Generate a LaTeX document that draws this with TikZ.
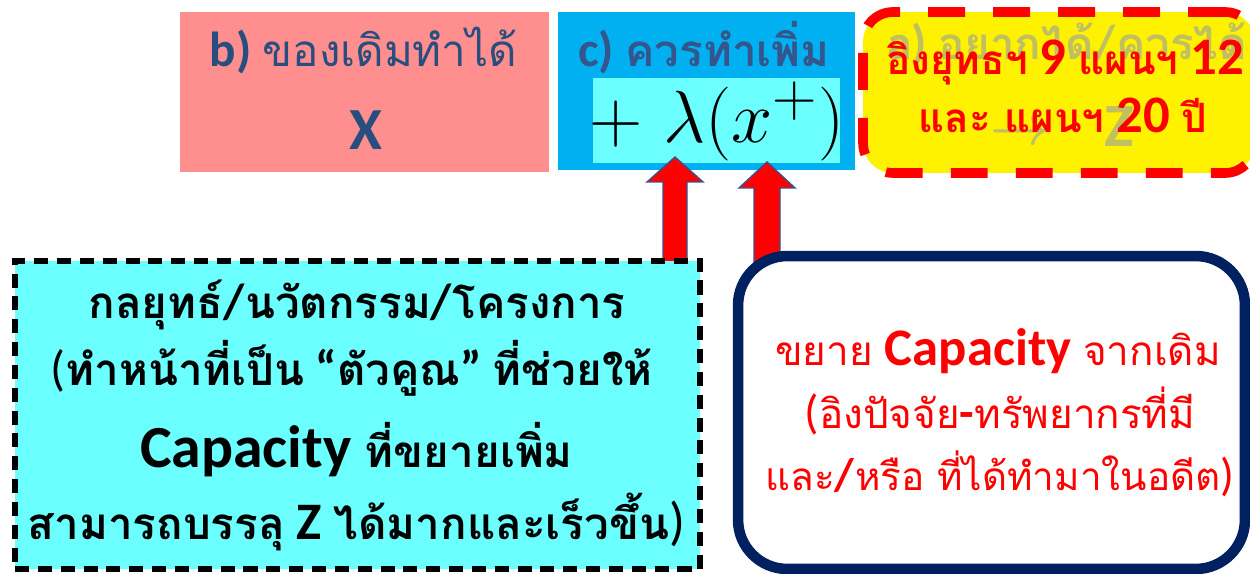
\documentclass[tikz,border=0pt]{standalone}
\usepackage{graphicx}
\usepackage{fontspec}
\setmainfont{Carlito}
\newfontfamily\thai[Script=Thai]{Loma}
\usetikzlibrary{positioning}
\definecolor{pinkbox}{RGB}{255,143,143}
\definecolor{bluebox}{RGB}{0,176,240}
\definecolor{cyanbox}{RGB}{108,255,255}
\definecolor{navyline}{RGB}{0,32,96}
\definecolor{titleblue}{RGB}{40,78,128}
\definecolor{mutedblue}{RGB}{52,86,140}
\definecolor{fadetext}{RGB}{192,192,96}
\definecolor{arrowedge}{RGB}{60,80,140}
\newcommand{\thsz}[2]{{\fontsize{#1}{#1}\selectfont\thai #2}}
\newcommand{\thbf}[2]{{\fontsize{#1}{#1}\selectfont\thai\bfseries #2}}
\tikzset{
  panel/.style={inner sep=0pt, outer sep=0pt},
  txt/.style={inner sep=0pt, anchor=base},
  fsz/.style={font=\fontsize{#1}{#1}\selectfont},
  bigarrow/.style={fill=red, draw=arrowedge, line width=0.8pt, line join=miter}
}
\begin{document}
\begin{tikzpicture}[x=0.02cm,y=-0.02cm]
    \useasboundingbox (0,0) rectangle (1250,574);
    % top row
    \node[panel, fill=pinkbox, minimum width=7.38cm, minimum height=3.2cm] (boxb) at (364.5,92) {};
    \node[panel, fill=bluebox, minimum width=5.94cm, minimum height=3.16cm] (boxc) at (706.5,91) {};
    \node[panel, fill=cyanbox, minimum width=4.94cm, minimum height=1.7cm] (lamb) at (716.5,120.5) {};
    \node[panel, fill=yellow, draw=red, line width=5.5pt, dash pattern=on 21pt off 16pt, rounded corners=17pt,
      minimum width=7.84cm, minimum height=3.22cm] (boxa) at (1059,92.5) {};
    % arrows
    \coordinate (tipl) at (675,157);
    \coordinate (tipx) at (767,162);
    \draw[bigarrow] (tipl) -- ++(28,25) -- ++(-16,0) -- ++(0,120) -- ++(-24,0) -- ++(0,-120) -- ++(-16,0) -- cycle;
    \draw[bigarrow] (tipx) -- ++(28,26) -- ++(-15,0) -- ++(0,120) -- ++(-26,0) -- ++(0,-120) -- ++(-15,0) -- cycle;
    % bottom row
    \node[panel, fill=cyanbox, draw=black, line width=3pt, dash pattern=on 8pt off 5pt,
      minimum width=13.7cm, minimum height=6.16cm] (boxs) at (357.5,415) {};
    \node[panel, fill=white, draw=navyline, line width=6pt, rounded corners=28pt,
      minimum width=10.14cm, minimum height=6.26cm] (boxe) at (991.5,412.5) {};
    % texts, top
    \node[txt, fsz=28, text=titleblue] (tb) at (363.5,67) {\textbf{b)} \thsz{25}{ของเดิมทำได้}};
    \node[txt, fsz=34, text=titleblue] (tx) at (366,150) {\textbf{X}};
    \node[txt, fsz=28, text=mutedblue] (tc) at (704,67) {\textbf{c)} \thbf{25}{ควรทำเพิ่ม}};
    \node[txt, fsz=24.88] (tm) at (717,143) {\scalebox{1.69}{$+\;\lambda(x^{+})$}};
    \node[txt, anchor=base west, fsz=28, text=fadetext] (ta1) at (887,60) {\textbf{a)} \thbf{25}{อยากได้}\textbf{/}\thbf{25}{ควรได้}};
    \node[txt, anchor=base west, fsz=24.88, text=fadetext] (ta2) at (990,145) {\scalebox{1.2}{\boldmath$\rightarrow$}};
    \node[txt, anchor=base west, fsz=35, text=fadetext] (ta3) at (1104,147) {\textbf{Z}};
    \node[txt, fsz=30, text=red] (ty1) at (1065,75) {\thbf{23}{อิงยุทธฯ} \textbf{9} \thbf{23}{แผนฯ} \textbf{12}};
    \node[txt, fsz=30, text=red] (ty2) at (1063,133) {\thbf{23}{และ แผนฯ} \textbf{20} \thbf{23}{ปี}};
    % texts, left box
    \node[txt, fsz=28] (s1) at (357,318) {\thbf{25}{กลยุทธ์}\textbf{/}\thbf{25}{นวัตกรรม}\textbf{/}\thbf{25}{โครงการ}};
    \node[txt, fsz=28] (s2) at (351.5,385) {(\thbf{25}{ทำหน้าที่เป็น} \textbf{“}\thbf{25}{ตัวคูณ}\textbf{”} \thbf{25}{ที่ช่วยให้}};
    \node[txt, fsz=34] (s3) at (356.5,467) {\textbf{Capacity} \thbf{25}{ที่ขยายเพิ่ม}};
    \node[txt, fsz=30] (s4) at (356.5,539) {\thbf{25}{สามารถบรรลุ} \textbf{Z} \thbf{25}{ได้มากและเร็วขึ้น})};
    % texts, right box
    \node[txt, fsz=30, text=red] (e1) at (998,365) {\thsz{23}{ขยาย} \textbf{Capacity} \thsz{23}{จากเดิม}};
    \node[txt, fsz=27, text=red] (e2) at (1000,428) {(\thsz{23}{อิงปัจจัย}\textbf{-}\thsz{23}{ทรัพยากรที่มี}};
    \node[txt, fsz=26, text=red] (e3) at (1000,490) {\thsz{22}{และ}\textbf{/}\thsz{22}{หรือ ที่ได้ทำมาในอดีต})};
\end{tikzpicture}
\end{document}
